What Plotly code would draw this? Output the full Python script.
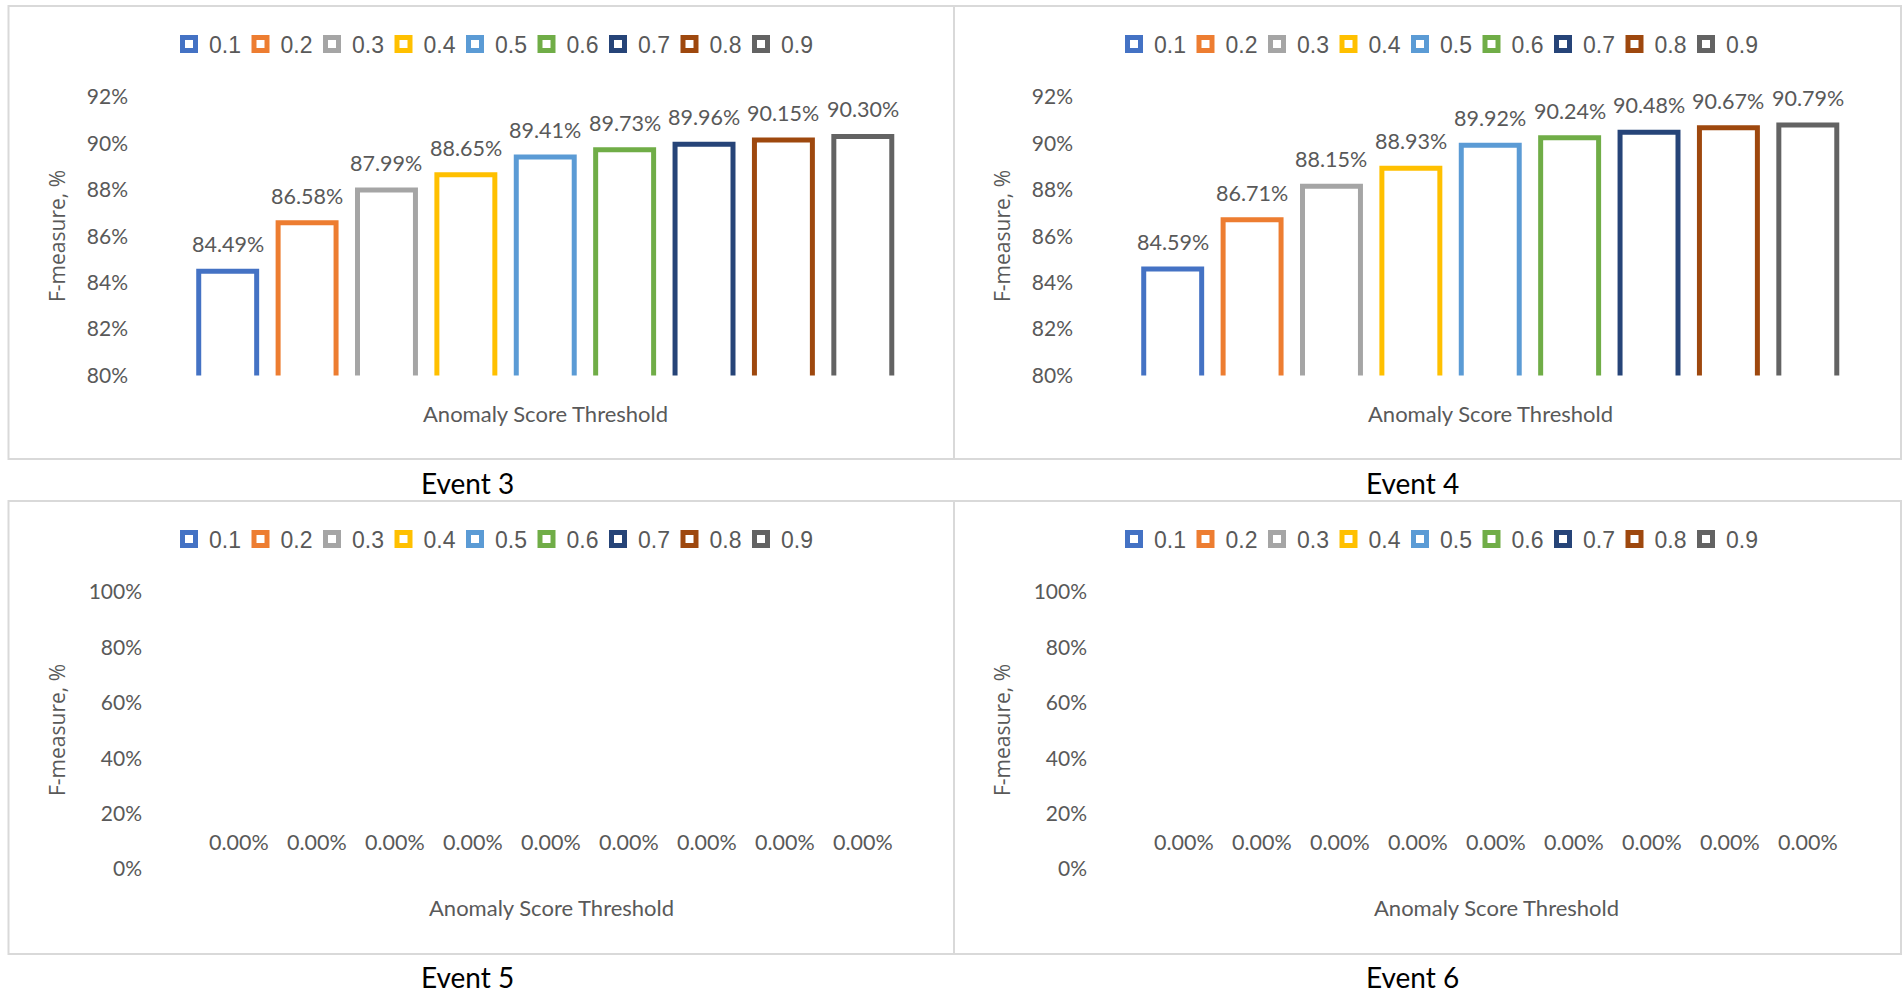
import plotly.graph_objects as go

# ---------------- data ----------------
thresholds = ["0.1", "0.2", "0.3", "0.4", "0.5", "0.6", "0.7", "0.8", "0.9"]
event3 = [84.49, 86.58, 87.99, 88.65, 89.41, 89.73, 89.96, 90.15, 90.30]
event4 = [84.59, 86.71, 88.15, 88.93, 89.92, 90.24, 90.48, 90.67, 90.79]
event5 = [0.00, 0.00, 0.00, 0.00, 0.00, 0.00, 0.00, 0.00, 0.00]
event6 = [0.00, 0.00, 0.00, 0.00, 0.00, 0.00, 0.00, 0.00, 0.00]
event_titles = ["Event 3", "Event 4", "Event 5", "Event 6"]
yticks_top = [80, 82, 84, 86, 88, 90, 92]
yticks_bottom = [0, 20, 40, 60, 80, 100]
x_title = "Anomaly Score Threshold"
y_title = "F-measure, %"

colors = ["#4472C4", "#ED7D31", "#A5A5A5", "#FFC000", "#5B9BD5",
          "#70AD47", "#264478", "#9E480E", "#636363"]

# ---------------- layout helpers ----------------
W, H = 1903, 993
OFF = 945  # horizontal offset of the right-hand panels


def fx(p):
    return p / W


def fy(p):
    return 1 - p / H


TXT = "#595959"
CAL = "Lato, 'Open Sans', sans-serif"

panels = [
    dict(vals=event3, title=event_titles[0], sfx="", leg="legend", dx=0,
         xdom=(188, 902.5), ydom=(97, 375.5), yr=(80, 92), yt=yticks_top,
         legy=44, xt_y=413, yt_y=236, cap_y=483, shift=27, stand=59),
    dict(vals=event4, title=event_titles[1], sfx="2", leg="legend2", dx=OFF,
         xdom=(188, 902.5), ydom=(97, 375.5), yr=(80, 92), yt=yticks_top,
         legy=44, xt_y=413, yt_y=236, cap_y=483, shift=27, stand=59),
    dict(vals=event5, title=event_titles[2], sfx="3", leg="legend3", dx=0,
         xdom=(200, 902), ydom=(592, 869), yr=(0, 100), yt=yticks_bottom,
         legy=539, xt_y=907, yt_y=730, cap_y=977, shift=27, stand=57),
    dict(vals=event6, title=event_titles[3], sfx="4", leg="legend4", dx=OFF,
         xdom=(200, 902), ydom=(592, 869), yr=(0, 100), yt=yticks_bottom,
         legy=539, xt_y=907, yt_y=730, cap_y=977, shift=27, stand=57),
]

fig = go.Figure()
layout = dict(
    width=W, height=H,
    margin=dict(l=0, r=0, t=0, b=0, autoexpand=False),
    paper_bgcolor="white", plot_bgcolor="white",
    barmode="overlay", bargap=0.27,
    showlegend=True,
)
annotations = []
shapes = []

for p in panels:
    xa = "x" + p["sfx"]
    ya = "y" + p["sfx"]
    for i, thr in enumerate(thresholds):
        v = p["vals"][i]
        fig.add_trace(go.Bar(
            x=[i], y=[v if v != 0 else None], name=thr,
            xaxis=xa, yaxis=ya, showlegend=False, legendgroup=p["leg"] + thr,
            marker=dict(color="white", line=dict(color=colors[i], width=5)),
            hovertext=[f"{thr}: {v:.2f}%"], hoverinfo="text",
        ))
        # legend swatch (hollow square like the original)
        fig.add_trace(go.Scatter(
            x=[None], y=[None], name=thr, mode="markers",
            xaxis=xa, yaxis=ya, legend=p["leg"], legendgroup=p["leg"] + thr,
            marker=dict(symbol="square", size=13, color="white",
                        line=dict(color=colors[i], width=5)),
            hoverinfo="skip",
        ))
        annotations.append(dict(
            x=i, y=v, xref=xa, yref=ya,
            text=f"{v:.2f}%", showarrow=False,
            yshift=p["shift"], yanchor="middle", xanchor="center",
            font=dict(family=CAL, size=21.5, color=TXT),
        ))
    dx = p["dx"]
    layout["xaxis" + p["sfx"]] = dict(
        domain=[fx(p["xdom"][0] + dx), fx(p["xdom"][1] + dx)],
        anchor=ya, type="linear", range=[-0.5, 8.5],
        showticklabels=False, showgrid=False, zeroline=False,
        showline=False, ticks="", fixedrange=True, automargin=False,
    )
    layout["yaxis" + p["sfx"]] = dict(
        domain=[fy(p["ydom"][1]), fy(p["ydom"][0])],
        anchor=xa, range=list(p["yr"]), tickvals=p["yt"],
        ticktext=[f"{v}%" for v in p["yt"]],
        showgrid=False, zeroline=False, showline=False, ticks="",
        ticklabelstandoff=p["stand"], automargin=False,
        tickfont=dict(family=CAL, size=21, color=TXT), fixedrange=True,
    )
    cx = (p["xdom"][0] + p["xdom"][1]) / 2 + dx
    layout[p["leg"]] = dict(
        orientation="h", x=fx(491 + dx), xanchor="center",
        y=fy(p["legy"]), yanchor="middle", entrywidth=26.5,
        itemsizing="trace",
        font=dict(family="'Liberation Sans', Arial, sans-serif", size=23, color=TXT),
        bgcolor="rgba(0,0,0,0)", borderwidth=0, traceorder="normal",
    )
    # axis titles
    annotations.append(dict(
        x=fx(cx), y=fy(p["xt_y"]), xref="paper", yref="paper",
        text=x_title, showarrow=False, xanchor="center", yanchor="middle",
        font=dict(family=CAL, size=22, color=TXT),
    ))
    annotations.append(dict(
        x=fx(57 + dx), y=fy(p["yt_y"]), xref="paper", yref="paper",
        text=y_title, showarrow=False, textangle=-90,
        xanchor="center", yanchor="middle",
        font=dict(family="'Open Sans', sans-serif", size=21, color=TXT),
    ))
    # caption under each panel
    annotations.append(dict(
        x=fx(467 + dx), y=fy(p["cap_y"]), xref="paper", yref="paper",
        text=p["title"], showarrow=False, xanchor="center", yanchor="middle",
        font=dict(family=CAL, size=28, color="#000000"),
    ))

# panel frames
frames = [(8.5, 6, 954, 459), (954, 6, 1901, 459),
          (8.5, 501, 954, 954), (954, 501, 1901, 954)]
for x0, y0, x1, y1 in frames:
    shapes.append(dict(
        type="rect", xref="paper", yref="paper",
        x0=fx(x0), x1=fx(x1), y0=fy(y1), y1=fy(y0),
        line=dict(color="#D9D9D9", width=2), fillcolor="rgba(0,0,0,0)",
        layer="below",
    ))

layout["annotations"] = annotations
layout["shapes"] = shapes
fig.update_layout(**layout)

fig.write_html("out.html", post_script="document.body.style.margin='0px';",
               config={"displayModeBar": False})
